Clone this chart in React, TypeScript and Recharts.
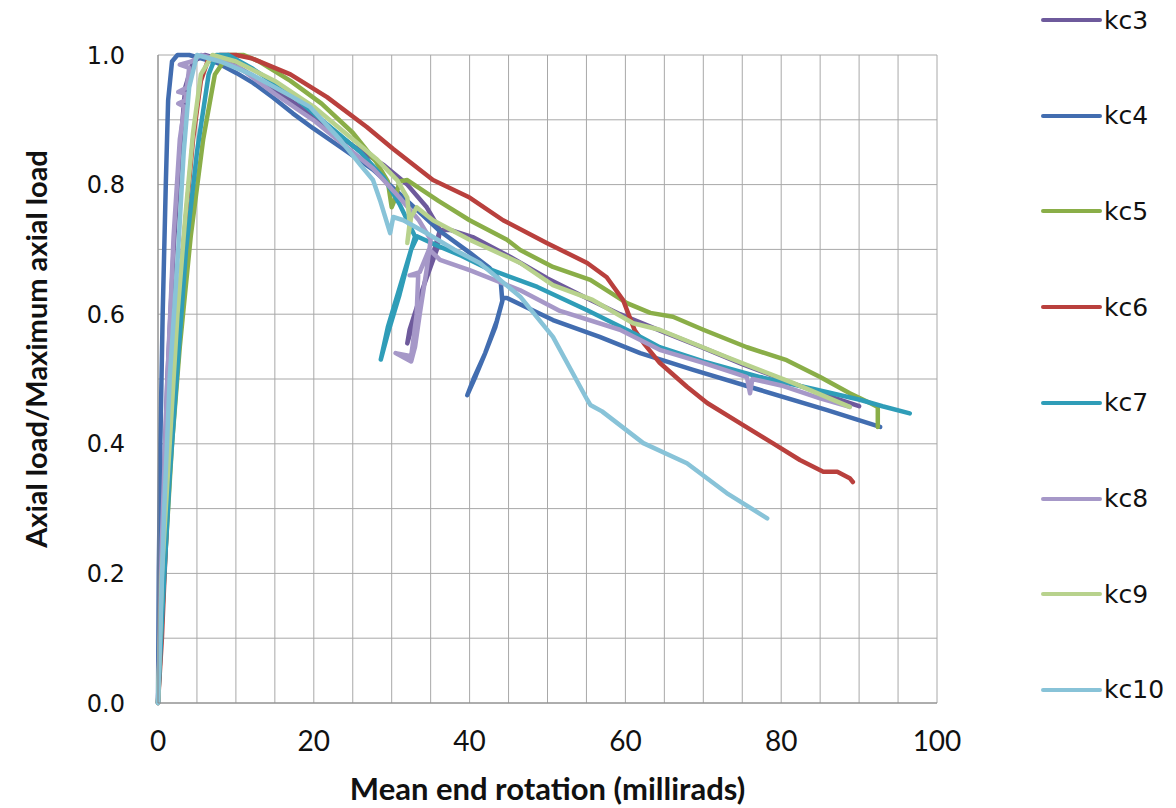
import { LineChart, Line, XAxis, YAxis, CartesianGrid } from "recharts";

// [mean end rotation (millirads), axial load / max axial load]
const kc3 = [
    [0, 0], [0.5, 0.25], [1.2, 0.5], [2, 0.7], [2.8, 0.85], [3.5, 0.95], [4.5, 0.99], [6, 1.0],
    [9, 0.99], [14, 0.955], [20, 0.905], [25, 0.86], [29, 0.83], [32, 0.8], [34.5, 0.765], [36.2, 0.73],
    [35.8, 0.7], [34, 0.64], [32.3, 0.576], [32, 0.555], [32.6, 0.58], [34.5, 0.66], [36.2, 0.73],
    [37.5, 0.73], [40.4, 0.719], [45, 0.69], [50, 0.655], [55, 0.625], [59.3, 0.6], [65, 0.572],
    [70, 0.548], [75, 0.523], [80, 0.5], [85, 0.478], [90, 0.458],
];
const kc4 = [
    [0, 0], [0.1, 0.2], [0.3, 0.4], [0.6, 0.6], [1.0, 0.8], [1.3, 0.93], [1.8, 0.99], [2.5, 1.0], [4, 1.0],
    [5.5, 0.995], [7.6, 0.988], [10.1, 0.972], [12.2, 0.957], [14.8, 0.934], [17.3, 0.91], [19.9, 0.887],
    [23.4, 0.858], [27.6, 0.823], [32, 0.775], [36, 0.73], [40, 0.695], [42.5, 0.672], [44, 0.65], [44.2, 0.62],
    [43.3, 0.58], [42, 0.54], [40.8, 0.505], [39.7, 0.475], [40.5, 0.5], [42, 0.54], [43.5, 0.59], [44.3, 0.625],
    [44.8, 0.625], [50.7, 0.591], [56.7, 0.565], [61.9, 0.54], [68.7, 0.514], [77.3, 0.483], [85.9, 0.452],
    [92.7, 0.426],
];
const kc5 = [
    [0, 0], [0.8, 0.2], [1.8, 0.4], [2.8, 0.55], [4.2, 0.72], [5.8, 0.87], [7.3, 0.97], [9, 1.0], [11, 1.0],
    [13, 0.99], [17, 0.96], [21, 0.925], [25, 0.88], [28, 0.835], [29.5, 0.805], [30, 0.765], [30.5, 0.78],
    [31, 0.805], [32, 0.807], [36, 0.775], [40, 0.745], [44.8, 0.715], [46.5, 0.699], [50.7, 0.673],
    [55.5, 0.653], [60.2, 0.617], [63.2, 0.602], [66.1, 0.596], [70, 0.576], [75.6, 0.549], [80.7, 0.529],
    [85, 0.503], [88.8, 0.478], [91.4, 0.463], [92.4, 0.457], [92.4, 0.426],
];
const kc6 = [
    [0, 0], [0.5, 0.1], [1.2, 0.3], [1.9, 0.47], [3.2, 0.7], [4.5, 0.87], [5.5, 0.96], [6.5, 0.995], [8, 1.0],
    [10, 1.0], [12, 0.995], [17, 0.97], [21.7, 0.935], [26.8, 0.889], [30.2, 0.855], [35.3, 0.807], [40, 0.78],
    [44.3, 0.745], [49.9, 0.71], [55.1, 0.679], [57.6, 0.657], [59.7, 0.622], [61.2, 0.575], [62.5, 0.553],
    [64.4, 0.525], [67.9, 0.488], [70.5, 0.463], [74.7, 0.432], [78.9, 0.401], [82.4, 0.375], [85.4, 0.357],
    [87.2, 0.357], [88.8, 0.347], [89.2, 0.341],
];
const kc7 = [
    [0, 0], [0.6, 0.15], [1.5, 0.35], [2.4, 0.5], [3.6, 0.7], [5, 0.85], [6.5, 0.97], [7.5, 1.0], [9, 1.0],
    [12, 0.98], [17, 0.94], [22, 0.89], [26, 0.85], [29, 0.81], [31, 0.77], [33, 0.72], [32, 0.68],
    [30.5, 0.62], [29.5, 0.58], [28.6, 0.53], [29.5, 0.57], [31, 0.63], [32.5, 0.7], [33.3, 0.72],
    [36, 0.705], [39, 0.69], [42.2, 0.671], [48.7, 0.642], [55.1, 0.606], [61, 0.571], [64.4, 0.549],
    [70, 0.527], [77.3, 0.503], [84, 0.485], [90.1, 0.468], [93, 0.458], [96.5, 0.447],
];
const kc8 = [
    [0, 0], [0.5, 0.25], [1.2, 0.5], [2, 0.72], [2.8, 0.87], [3.4, 0.92], [2.6, 0.925], [3.5, 0.93],
    [3.6, 0.94], [2.6, 0.943], [3.7, 0.95], [4.0, 0.98], [2.8, 0.985], [4.3, 0.99], [5.5, 1.0], [7, 0.995],
    [10.5, 0.98], [15, 0.94], [19.9, 0.9], [24, 0.86], [27.6, 0.825], [31, 0.78], [33.5, 0.745], [35, 0.715],
    [34.5, 0.67], [33.6, 0.6], [33, 0.55], [32.5, 0.527], [30.5, 0.54], [32.5, 0.535], [33.2, 0.6],
    [33.4, 0.66], [32.3, 0.66], [33.6, 0.665], [34.8, 0.7], [36.2, 0.684], [40, 0.668], [46.5, 0.637],
    [51.6, 0.605], [59.3, 0.576], [64.4, 0.545], [70, 0.525], [75.6, 0.503], [76, 0.478], [76.3, 0.5],
    [80, 0.49], [85, 0.47], [88.8, 0.457],
];
const kc9 = [
    [0, 0], [0.5, 0.2], [1.5, 0.4], [2.5, 0.6], [3.5, 0.75], [4.5, 0.88], [5.5, 0.97], [7, 1.0], [10, 0.99],
    [15, 0.96], [20, 0.92], [25, 0.87], [28, 0.84], [30.7, 0.807], [32, 0.78], [32.3, 0.74], [32, 0.71],
    [32.5, 0.75], [33.2, 0.765], [35.3, 0.745], [40, 0.715], [46.5, 0.679], [50.7, 0.645], [55.8, 0.622],
    [61, 0.586], [64.4, 0.576], [73, 0.534], [81.5, 0.494], [88.8, 0.457],
];
const kc10 = [
    [0, 0], [0.8, 0.3], [1.5, 0.5], [2.6, 0.7], [3.3, 0.85], [4, 0.95], [5, 1.0], [8, 0.99], [12, 0.97],
    [17.3, 0.935], [19.5, 0.92], [23.4, 0.869], [26, 0.83], [27.6, 0.807], [28.5, 0.776], [29.8, 0.725],
    [30.2, 0.75], [31.5, 0.745], [34.5, 0.725], [38, 0.7], [41.3, 0.679], [46.5, 0.627], [50.7, 0.565],
    [55.1, 0.468], [55.5, 0.46], [57, 0.45], [62.3, 0.401], [67.9, 0.37], [73, 0.324], [78.2, 0.285],
];

const xTicks = [0, 5, 10, 15, 20, 25, 30, 35, 40, 45, 50, 55, 60, 65, 70, 75, 80, 85, 90, 95, 100];
const yTicks = [0, 0.1, 0.2, 0.3, 0.4, 0.5, 0.6, 0.7, 0.8, 0.9, 1.0];

const SERIES = [
    { name: "kc3", points: kc3, color: "#6e5a9c" },
    { name: "kc4", points: kc4, color: "#426db0" },
    { name: "kc5", points: kc5, color: "#8aae48" },
    { name: "kc6", points: kc6, color: "#b9403d" },
    { name: "kc7", points: kc7, color: "#2f9db8" },
    { name: "kc8", points: kc8, color: "#a698c8" },
    { name: "kc9", points: kc9, color: "#b8d28d" },
    { name: "kc10", points: kc10, color: "#88c3d8" },
];

const toRows = (pts: number[][]) => pts.map(([x, y]) => ({ x, y }));

function SideLegend() {
    return (
        <div style={{ position: "absolute", left: 1041, top: 8 }}>
            {SERIES.map((s, i) => (
                <div
                    key={s.name}
                    style={{ position: "absolute", top: i * 95.7, left: 0, display: "flex", alignItems: "center", height: 24, whiteSpace: "nowrap" }}
                >
                    <svg width={62} height={8}>
                        <line x1={2} y1={4} x2={59} y2={4} stroke={s.color} strokeWidth={4} strokeLinecap="round" />
                    </svg>
                    <span style={{ fontFamily: "DejaVu Sans", fontSize: 25, color: "#111", marginLeft: 1 }}>{s.name}</span>
                </div>
            ))}
        </div>
    );
}

function YTitle({ viewBox }: { viewBox?: any }) {
    const cx = viewBox.x + 35;
    const cy = viewBox.y + viewBox.height / 2 - 30;
    return (
        <text
            x={cx}
            y={cy}
            transform={`rotate(-90, ${cx}, ${cy})`}
            textAnchor="middle"
            dominantBaseline="central"
            style={{ fontFamily: "Lato", fontWeight: 700, fontSize: 29, fill: "#111" }}
        >
            Axial load/Maximum axial load
        </text>
    );
}

export default function App() {
    return (
        <div style={{ position: "absolute", left: 0, top: 0, width: 1176, height: 808, background: "#fff" }}>
            <LineChart width={1176} height={808} margin={{ top: 55, right: 239, bottom: 0, left: 0 }}>
                <CartesianGrid stroke="#a8a8a8" strokeWidth={1} />
                <XAxis
                    type="number"
                    dataKey="x"
                    domain={[0, 100]}
                    ticks={xTicks}
                    interval={0}
                    height={105}
                    tickLine={false}
                    tickSize={0}
                    tickMargin={28}
                    stroke="#888"
                    tickFormatter={(v: number) => (v % 20 === 0 ? String(v) : "")}
                    tick={{ fontFamily: "Lato", fontSize: 28, fill: "#111" }}
                    label={{
                        value: "Mean end rotation (millirads)",
                        position: "insideBottom",
                        offset: 8,
                        style: { fontFamily: "Lato", fontWeight: 700, fontSize: 31, fill: "#111" },
                    }}
                />
                <YAxis
                    type="number"
                    domain={[0, 1]}
                    ticks={yTicks}
                    interval={0}
                    width={158}
                    tickLine={false}
                    tickSize={0}
                    tickMargin={33}
                    stroke="#888"
                    tickFormatter={(v: number) => (Math.round(v * 10) % 2 === 0 ? v.toFixed(1) : "")}
                    tick={{ fontFamily: "DejaVu Sans", fontSize: 24, fill: "#111" }}
                    label={<YTitle />}
                />
                {SERIES.map((s) => (
                    <Line
                        key={s.name}
                        name={s.name}
                        data={toRows(s.points)}
                        dataKey="y"
                        type="linear"
                        stroke={s.color}
                        strokeWidth={4.5}
                        strokeLinejoin="round"
                        strokeLinecap="round"
                        dot={false}
                        activeDot={false}
                        isAnimationActive={false}
                    />
                ))}
            </LineChart>
            <SideLegend />
        </div>
    );
}
